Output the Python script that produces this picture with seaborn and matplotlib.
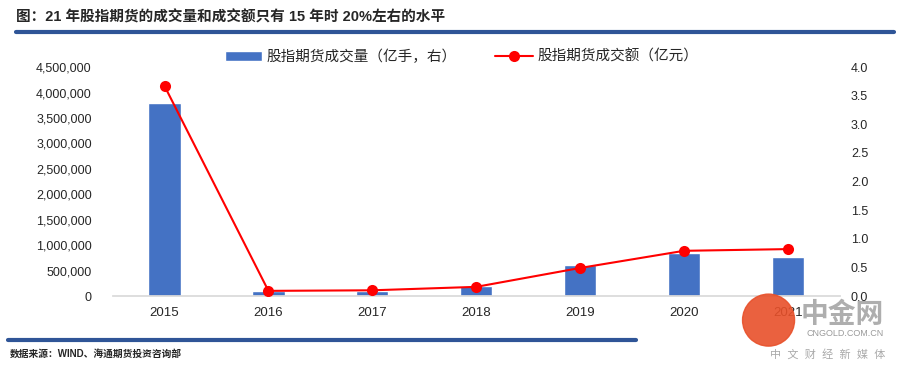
import numpy as np
import pandas as pd
import matplotlib
matplotlib.use("Agg")
import matplotlib.pyplot as plt
import seaborn as sns
from matplotlib.ticker import FuncFormatter, MultipleLocator
from matplotlib.patches import Ellipse

years = ["2015", "2016", "2017", "2018", "2019", "2020", "2021"]
volume = [3790000, 100000, 95000, 190000, 610000, 845000, 765000]
turnover = [3.67, 0.09, 0.10, 0.16, 0.49, 0.79, 0.82]

sns.set_theme(style="white")
plt.rcParams["font.family"] = ["Liberation Sans", "Noto Sans CJK SC", "DejaVu Sans"]

df = pd.DataFrame({"year": years, "volume": volume, "turnover": turnover})

fig = plt.figure(figsize=(9.01, 3.65), dpi=100)
ax = fig.add_axes([0.125, 0.189, 0.807, 0.627])
ax2 = ax.twinx()

bar_color = "#4472C4"
sns.barplot(data=df, x="year", y="volume", color=bar_color, width=0.31,
            saturation=1, ax=ax, label="股指期货成交量（亿手，右）")
sns.lineplot(x=np.arange(len(years)), y=df["turnover"], color="red",
             marker="o", markersize=8, markeredgewidth=0, linewidth=1.5,
             ax=ax2, label="股指期货成交额（亿元）")

ax.set_ylim(0, 4500000)
ax.yaxis.set_major_locator(MultipleLocator(500000))
ax.yaxis.set_major_formatter(FuncFormatter(lambda v, p: f"{int(v):,}"))
ax2.set_ylim(0, 4.0)
ax2.yaxis.set_major_locator(MultipleLocator(0.5))
ax2.yaxis.set_major_formatter(FuncFormatter(lambda v, p: f"{v:.1f}"))
ax.set_xlim(-0.5, len(years) - 0.5)

for a in (ax, ax2):
    for s in a.spines.values():
        s.set_visible(False)
    a.set_xlabel("")
    a.set_ylabel("")
ax.spines["bottom"].set_visible(True)
ax.spines["bottom"].set_color("#d9d9d9")
ax.tick_params(axis="y", labelsize=9, length=0, pad=15)
ax2.tick_params(axis="y", labelsize=9, length=0, pad=8)
ax.tick_params(axis="x", labelsize=9.5, length=0, pad=8)

# legend
h1, l1 = ax.get_legend_handles_labels()
h2, l2 = ax2.get_legend_handles_labels()
if ax2.get_legend():
    ax2.get_legend().remove()
fig.legend(h1 + h2, l1 + l2, loc="center", bbox_to_anchor=(0.512, 0.845),
           ncol=2, frameon=False, fontsize=10.5, handlelength=2.6,
           columnspacing=2.6, handletextpad=0.3)
if ax.get_legend():
    ax.get_legend().remove()

# title and frame lines
fig.text(0.018, 0.953, "图：21 年股指期货的成交量和成交额只有 15 年时 20%左右的水平",
         fontsize=10.5, fontweight="bold", va="center", ha="left")
fig.add_artist(plt.Line2D([0.018, 0.992], [0.912, 0.912], color="#2F5597", lw=3))
fig.add_artist(plt.Line2D([0.009, 0.706], [0.068, 0.068], color="#2F5597", lw=3))
fig.text(0.011, 0.030, "数据来源：WIND、海通期货投资咨询部", fontsize=7,
         fontweight="bold", va="center", ha="left")

# watermark
fig.add_artist(Ellipse((0.853, 0.123), 52 / 901, 52 / 365, transform=fig.transFigure,
                       color="#E8502A", alpha=0.9, zorder=5))
fig.text(0.935, 0.135, "中金网", fontsize=20, color="#9a9a9a", ha="center",
         va="center", fontweight="bold", alpha=0.8, zorder=6)
fig.text(0.938, 0.085, "CNGOLD.COM.CN", fontsize=6.5, color="#9a9a9a",
         ha="center", va="center", zorder=6)
fig.text(0.919, 0.030, "中  文  财  经  新  媒  体", fontsize=8, color="#aaaaaa",
         ha="center", va="center", zorder=6)

fig.savefig("out.png", dpi=100)
